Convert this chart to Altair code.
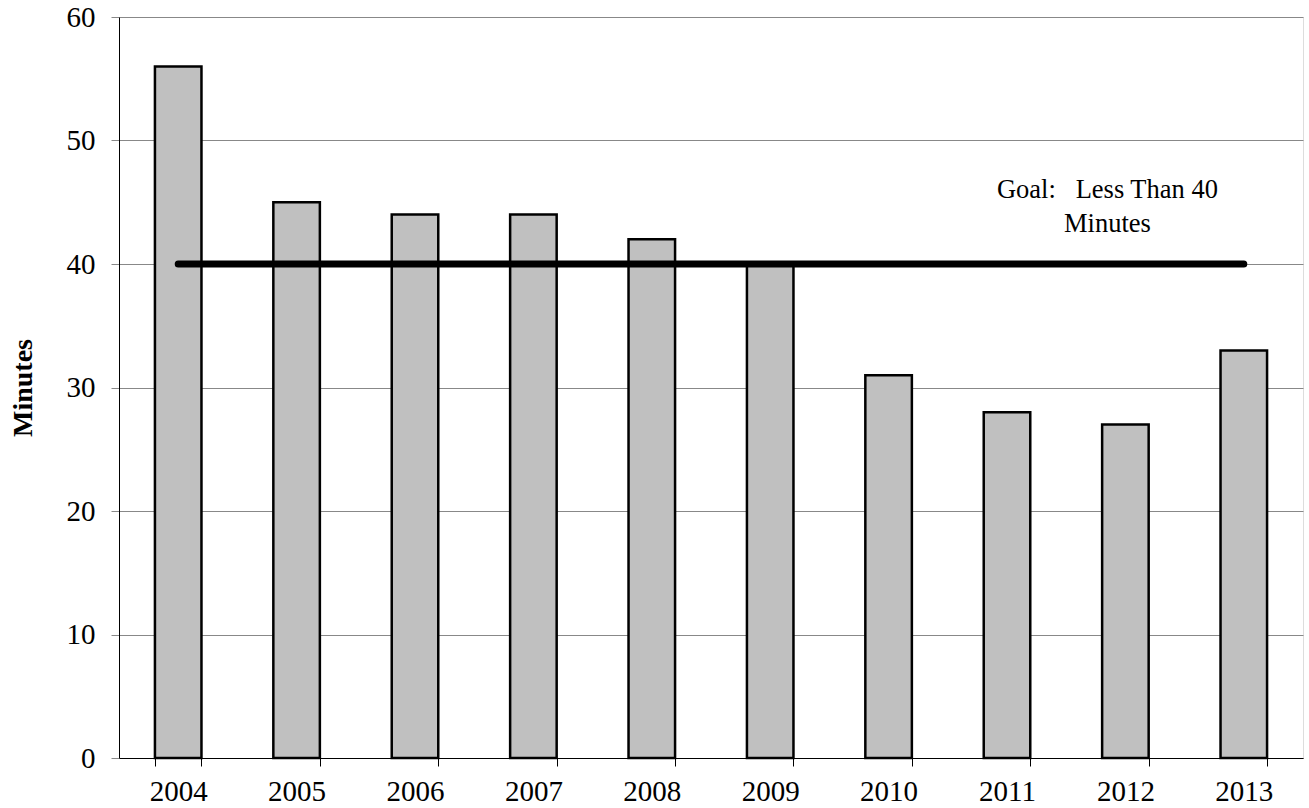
import altair as alt
import pandas as pd

years = ["2004", "2005", "2006", "2007", "2008", "2009", "2010", "2011", "2012", "2013"]
minutes = [56, 45, 44, 44, 42, 40, 31, 28, 27, 33]
goal_value = 40
goal_years = ["2004", "2013"]
note_lines = ["Goal:\u00a0\u00a0 Less Than 40", "Minutes"]
note_year = "2012"
note_y = 45.35

FONT = "Liberation Serif"

bars_df = pd.DataFrame({"year": years, "minutes": minutes})
goal_df = pd.DataFrame({"year": goal_years, "goal": [goal_value] * len(goal_years)})
note_df = pd.DataFrame({"year": [note_year], "y": [note_y], "text": [note_lines]})

x_scale = alt.Scale(domain=years, paddingInner=0.607, paddingOuter=0.3035)
y_scale = alt.Scale(domain=[0, 60], nice=False)

bars = alt.Chart(bars_df).mark_bar(
    color="#C0C0C0", stroke="black", strokeWidth=2.5
).encode(
    x=alt.X("year:N", scale=x_scale, sort=years,
            axis=alt.Axis(title=None, labelAngle=0, tickBand="extent", tickSize=8,
                          tickColor="black", domainColor="black", labelFont=FONT,
                          labelFontSize=29, labelColor="black", labelPadding=11,
                          grid=False)),
    y=alt.Y("minutes:Q", scale=y_scale,
            axis=alt.Axis(title="Minutes", values=[0, 10, 20, 30, 40, 50, 60],
                          tickSize=8, tickColor="#888888", domainColor="black",
                          gridColor="#888888", gridWidth=1, labelFont=FONT,
                          labelFontSize=29, labelColor="black", labelPadding=16,
                          titleFont=FONT, titleFontSize=28, titleFontWeight="bold",
                          titleColor="black", titlePadding=29)),
)

goal = alt.Chart(goal_df).mark_line(
    color="black", strokeWidth=7, strokeCap="round"
).encode(
    x=alt.X("year:N", scale=x_scale, sort=years),
    y=alt.Y("goal:Q", scale=y_scale),
)

note = alt.Chart(note_df).mark_text(
    font=FONT, fontSize=26.5, color="black", align="center", baseline="alphabetic",
    lineHeight=34, dx=-18
).encode(
    x=alt.X("year:N", scale=x_scale, sort=years),
    y=alt.Y("y:Q", scale=y_scale),
    text="text",
)

chart = alt.layer(bars, goal, note).properties(
    width=1184, height=741,
    autosize=alt.AutoSizeParams(type="none"),
    padding={"left": 119, "top": 17, "right": 6, "bottom": 50},
).configure_view(stroke=None).configure(background="white")

chart.save("out.html", embed_options={"renderer": "svg", "actions": False})
